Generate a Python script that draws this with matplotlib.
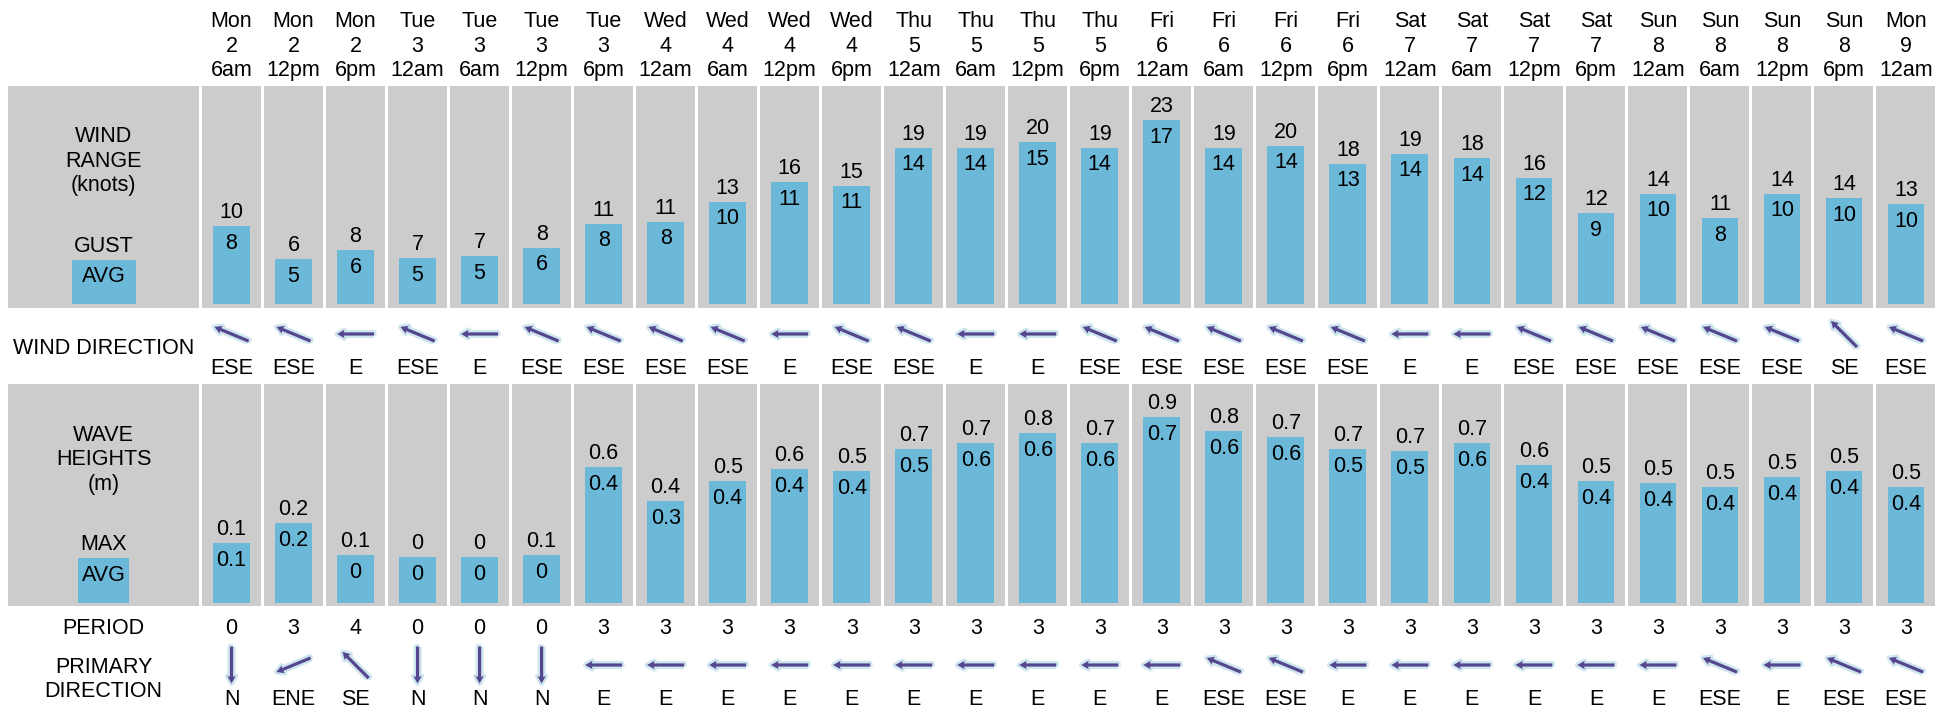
import numpy as np
import matplotlib
matplotlib.use("Agg")
import matplotlib.pyplot as plt
import matplotlib.patheffects as pe
from matplotlib.patches import Rectangle

plt.rcParams['font.family'] = ['Liberation Sans', 'DejaVu Sans']

# forecast columns
days = ["Mon", "Mon", "Mon", "Tue", "Tue", "Tue", "Tue", "Wed", "Wed", "Wed", "Wed",
        "Thu", "Thu", "Thu", "Thu", "Fri", "Fri", "Fri", "Fri", "Sat", "Sat", "Sat", "Sat",
        "Sun", "Sun", "Sun", "Sun", "Mon"]
dates = [2, 2, 2, 3, 3, 3, 3, 4, 4, 4, 4, 5, 5, 5, 5, 6, 6, 6, 6, 7, 7, 7, 7, 8, 8, 8, 8, 9]
hours = ["6am", "12pm", "6pm", "12am", "6am", "12pm", "6pm",
         "12am", "6am", "12pm", "6pm", "12am", "6am", "12pm", "6pm",
         "12am", "6am", "12pm", "6pm", "12am", "6am", "12pm", "6pm",
         "12am", "6am", "12pm", "6pm", "12am"]

# wind (knots) - bar heights estimated, labels as printed
wind_avg = [7.8, 4.9, 5.7, 5.0, 5.2, 5.9, 8.0, 8.2, 9.9, 11.6, 11.3, 14.6, 14.6, 15.1,
            14.6, 17.0, 14.6, 14.8, 13.2, 14.1, 13.7, 12.0, 8.9, 10.6, 8.5, 10.6, 10.2, 9.7]
wind_avg_lbl = [8, 5, 6, 5, 5, 6, 8, 8, 10, 11, 11, 14, 14, 15, 14, 17, 14, 14, 13, 14,
                14, 12, 9, 10, 8, 10, 10, 10]
wind_gust_lbl = [10, 6, 8, 7, 7, 8, 11, 11, 13, 16, 15, 19, 19, 20, 19, 23, 19, 20, 18, 19,
                 18, 16, 12, 14, 11, 14, 14, 13]
wind_dir = ["ESE", "ESE", "E", "ESE", "E", "ESE", "ESE", "ESE", "ESE", "E", "ESE", "ESE",
            "E", "E", "ESE", "ESE", "ESE", "ESE", "ESE", "E", "E", "ESE", "ESE", "ESE",
            "ESE", "ESE", "SE", "ESE"]

# waves (m)
wave_avg = [0.07, 0.17, 0.01, 0.0, 0.0, 0.01, 0.45, 0.28, 0.38, 0.44, 0.43, 0.54, 0.57,
            0.62, 0.57, 0.70, 0.63, 0.60, 0.54, 0.53, 0.57, 0.46, 0.38, 0.37, 0.35, 0.40,
            0.43, 0.35]
wave_avg_lbl = ["0.1", "0.2", "0", "0", "0", "0", "0.4", "0.3", "0.4", "0.4", "0.4", "0.5",
                "0.6", "0.6", "0.6", "0.7", "0.6", "0.6", "0.5", "0.5", "0.6", "0.4", "0.4",
                "0.4", "0.4", "0.4", "0.4", "0.4"]
wave_max_lbl = ["0.1", "0.2", "0.1", "0", "0", "0.1", "0.6", "0.4", "0.5", "0.6", "0.5",
                "0.7", "0.7", "0.8", "0.7", "0.9", "0.8", "0.7", "0.7", "0.7", "0.7", "0.6",
                "0.5", "0.5", "0.5", "0.5", "0.5", "0.5"]
period = [0, 3, 4, 0, 0, 0, 3, 3, 3, 3, 3, 3, 3, 3, 3, 3, 3, 3, 3, 3, 3, 3, 3, 3, 3, 3, 3, 3]
primary_dir = ["N", "ENE", "SE", "N", "N", "N", "E", "E", "E", "E", "E", "E", "E", "E",
               "E", "E", "ESE", "ESE", "E", "E", "E", "E", "E", "E", "ESE", "E", "ESE", "ESE"]

bearing = {"N": 0, "NNE": 22.5, "NE": 45, "ENE": 67.5, "E": 90, "ESE": 112.5, "SE": 135,
           "SSE": 157.5, "S": 180, "SSW": 202.5, "SW": 225, "WSW": 247.5, "W": 270,
           "WNW": 292.5, "NW": 315, "NNW": 337.5}

W, H = 1950, 708
GRAY = '#cccccc'
BLUE = '#6cb8d9'
ARROW = '#54478f'
HALO = '#cfe6ee'
FS = 15.5

fig = plt.figure(figsize=(W / 100, H / 100), dpi=100)


def rect(x0, y0, x1, y1):
    return [x0 / W, 1 - y1 / H, (x1 - x0) / W, (y1 - y0) / H]


n = len(days)
idx = np.arange(n)
pitch = 62.02
col_w = 59 / pitch
bar_w = 36.7 / pitch

# left label panel
ov = fig.add_axes([0, 0, 1, 1])
ov.set_xlim(0, W)
ov.set_ylim(H, 0)
ov.axis('off')
for y0, y1 in [(86, 308), (384.3, 606)]:
    ov.add_patch(Rectangle((8, y0), 191, y1 - y0, color=GRAY, lw=0))
ov.add_patch(Rectangle((72, 260.3), 64, 44, color=BLUE, lw=0))
ov.add_patch(Rectangle((78, 558.3), 51, 45, color=BLUE, lw=0))
label_rows = [("WIND", 142.5), ("RANGE", 167), ("(knots)", 191.5), ("GUST", 251.8),
              ("AVG", 282.5), ("WIND DIRECTION", 354.2), ("WAVE", 440.8),
              ("HEIGHTS", 465.3), ("(m)", 489.8), ("MAX", 549.8), ("AVG", 580.8),
              ("PERIOD", 633.5), ("PRIMARY", 673.3), ("DIRECTION", 696.7)]
for s, y in label_rows:
    ov.text(103.7, y, s, ha='center', va='baseline', fontsize=FS)


def panel(y0, y1, lo, hi, floor, avg, top_lbl, avg_lbl):
    ax = fig.add_axes(rect(200.5, y0, 1937, y1))
    ax.set_xlim(-0.5, n - 0.5)
    ax.set_ylim(lo, hi)
    ax.axis('off')
    ax.bar(idx, hi - lo, bottom=lo, width=col_w, color=GRAY, lw=0)
    ax.bar(idx, np.array(avg) - floor, bottom=floor, width=bar_w, color=BLUE, lw=0)
    for i, v in enumerate(avg):
        ax.annotate(str(top_lbl[i]), (i, v), xytext=(0, 8), textcoords='offset pixels',
                    ha='center', va='baseline', fontsize=FS)
        ax.annotate(str(avg_lbl[i]), (i, v), xytext=(0, -22.5), textcoords='offset pixels',
                    ha='center', va='baseline', fontsize=FS)
    return ax


panel(86, 308, 0.68, 19.98, 1.0, wind_avg, wind_gust_lbl, wind_avg_lbl)
panel(384.3, 606, -0.2435, 0.865, -0.23, wave_avg, wave_max_lbl, wave_avg_lbl)

# column text rows and arrows
st = fig.add_axes(rect(200.5, 0, 1937, H))
st.set_xlim(-0.5, n - 0.5)
st.set_ylim(H, 0)
st.axis('off')
for i in idx:
    st.text(i, 26.7, days[i], ha='center', va='baseline', fontsize=FS)
    st.text(i, 51.5, str(dates[i]), ha='center', va='baseline', fontsize=FS)
    st.text(i, 76, hours[i], ha='center', va='baseline', fontsize=FS)
    st.text(i, 374, wind_dir[i], ha='center', va='baseline', fontsize=FS)
    st.text(i, 633.5, str(period[i]), ha='center', va='baseline', fontsize=FS)
    st.text(i, 705, primary_dir[i], ha='center', va='baseline', fontsize=FS)


def arrows(dirs, y):
    b = np.radians([bearing[d] + 180 for d in dirs])
    q = st.quiver(idx, np.full(n, y), np.sin(b), np.cos(b), pivot='middle', angles='uv',
                  scale_units='dots', scale=1 / 37, units='dots', width=3.2, headwidth=2.6,
                  headlength=2.3, headaxislength=2.1, color=ARROW)
    q.set_path_effects([pe.withStroke(linewidth=3.5, foreground=HALO)])


arrows(wind_dir, 334)
arrows(primary_dir, 665)

fig.savefig('out.png', dpi=100)
